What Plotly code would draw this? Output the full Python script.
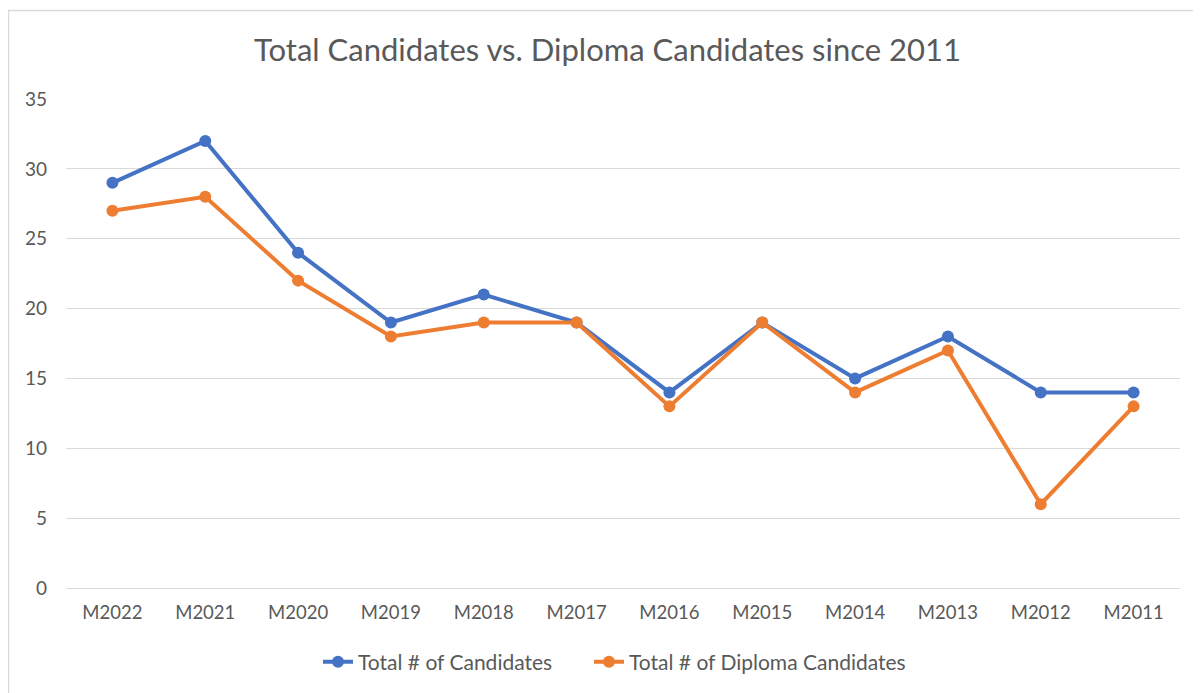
import plotly.graph_objects as go

categories = ["M2022", "M2021", "M2020", "M2019", "M2018", "M2017",
              "M2016", "M2015", "M2014", "M2013", "M2012", "M2011"]
total_candidates = [29, 32, 24, 19, 21, 19, 14, 19, 15, 18, 14, 14]
diploma_candidates = [27, 28, 22, 18, 19, 19, 13, 19, 14, 17, 6, 13]
y_ticks = [0, 5, 10, 15, 20, 25, 30, 35]

# page has an 8px body margin; work in figure coordinates (page - 8)
OFF = 8
W, H = 1201 - OFF, 693 - OFF
L = 66 - OFF
R = 1201 - 1180
T = 99 - OFF
B = H - (588 - OFF)
pw, ph = W - L - R, H - T - B

def px_x(x):
    return (x - OFF - L) / pw

def px_y(y):
    return (H - B - (y - OFF)) / ph

font = "Lato, 'Open Sans', sans-serif"
gray = "#595959"
grid = "#D9D9D9"

fig = go.Figure()
fig.add_trace(go.Scatter(x=categories, y=total_candidates, mode="lines+markers",
                         name="Total # of Candidates", legend="legend",
                         line=dict(color="#4472C4", width=4),
                         marker=dict(size=12, color="#4472C4")))
fig.add_trace(go.Scatter(x=categories, y=diploma_candidates, mode="lines+markers",
                         name="Total # of Diploma Candidates", legend="legend2",
                         line=dict(color="#ED7D31", width=4),
                         marker=dict(size=12, color="#ED7D31")))

legend_common = dict(orientation="h", xanchor="left", y=px_y(662),
                     yanchor="middle", font=dict(size=21, color=gray),
                     bgcolor="rgba(0,0,0,0)")

fig.update_layout(
    width=W, height=H,
    margin=dict(l=L, r=R, t=T, b=B, autoexpand=False),
    paper_bgcolor="white", plot_bgcolor="white",
    font=dict(family=font, color=gray, size=18),
    title=dict(text="Total Candidates vs. Diploma Candidates since 2011",
               x=0.5 + 3 / W, xanchor="center", xref="container",
               y=1 - (50 - OFF) / H, yanchor="middle", yref="container",
               font=dict(size=31, color=gray, family=font)),
    xaxis=dict(type="category", range=[-0.5, len(categories) - 0.5],
               showgrid=False, showline=False, zeroline=False,
               ticks="", tickfont=dict(size=18.5, color=gray), automargin=False,
               ticklabelstandoff=11),
    yaxis=dict(range=[0, 35], tickvals=y_ticks, showgrid=True, gridcolor=grid,
               gridwidth=1, zeroline=True, zerolinecolor=grid, zerolinewidth=1,
               showline=False, ticks="", automargin=False,
               tickfont=dict(size=19, color=gray), ticklabelstandoff=18),
    legend=dict(x=px_x(318), **legend_common),
    legend2=dict(x=px_x(589), **legend_common),
    showlegend=True,
)

fig.add_shape(type="rect", xref="paper", yref="paper",
              x0=px_x(8.5), x1=px_x(1196), y0=px_y(710), y1=px_y(10.5),
              line=dict(color=grid, width=1.5), fillcolor="rgba(0,0,0,0)",
              layer="below")

fig.write_html("out.html")
